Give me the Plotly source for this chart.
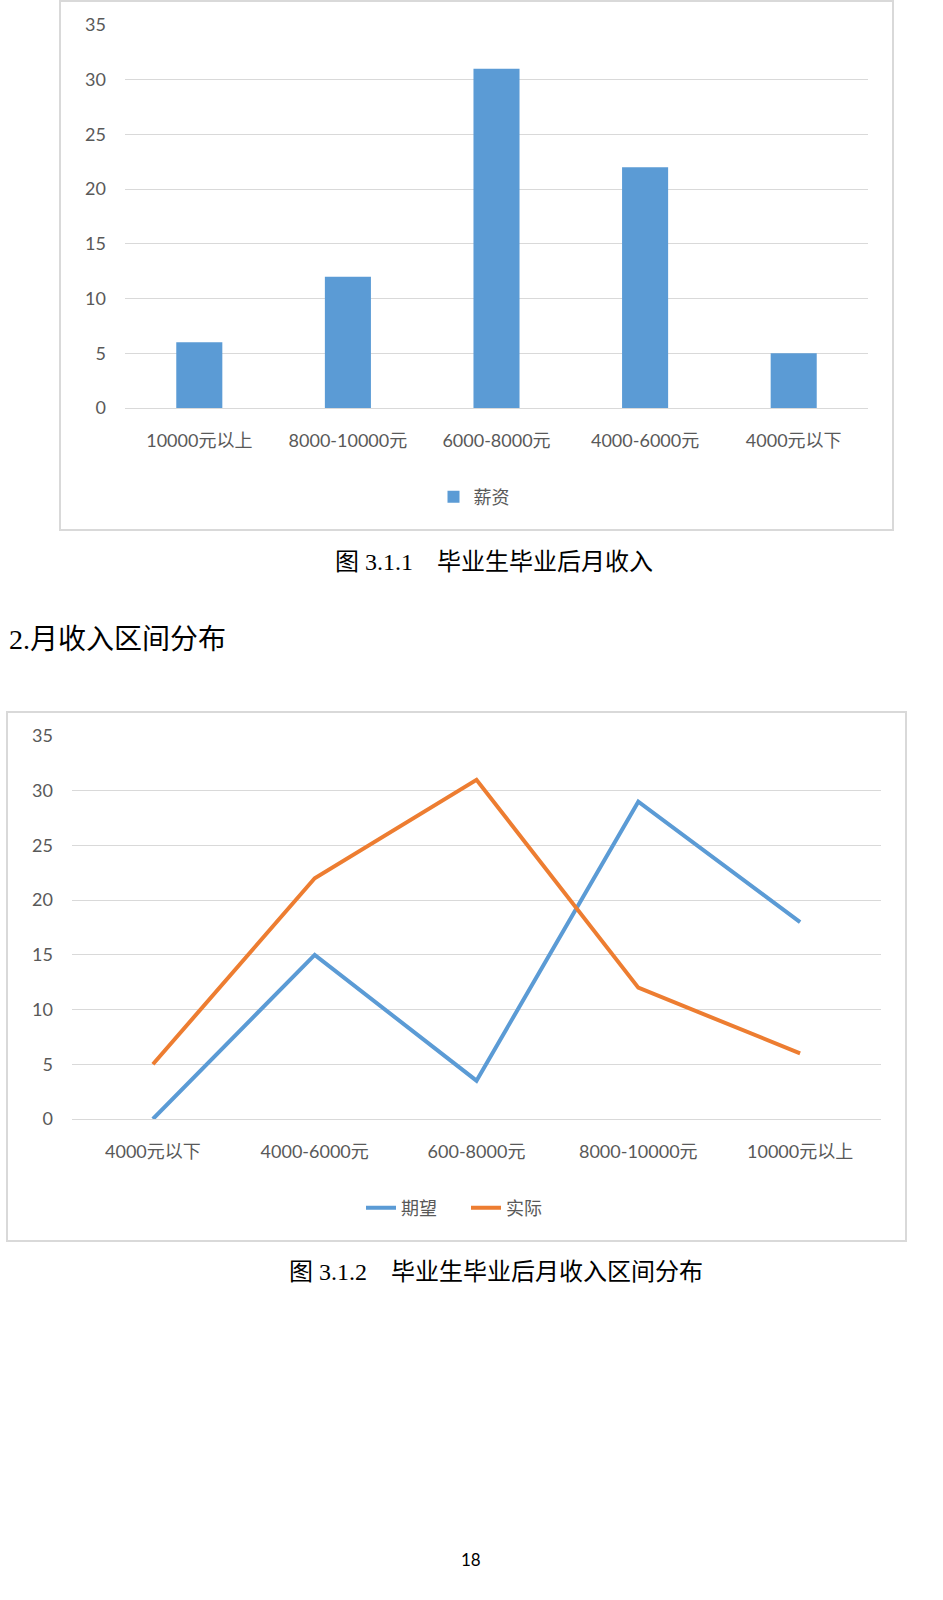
import plotly.graph_objects as go

# --- 数据 ---
bar_categories = ["10000元以上", "8000-10000元", "6000-8000元", "4000-6000元", "4000元以下"]
bar_values = [6, 12, 31, 22, 5]
bar_name = "薪资"

line_categories = ["4000元以下", "4000-6000元", "600-8000元", "8000-10000元", "10000元以上"]
expected_values = [0, 15, 3.5, 29, 18]
actual_values = [5, 22, 31, 12, 6]
line_names = ["期望", "实际"]

y_ticks = [0, 5, 10, 15, 20, 25, 30, 35]

caption_1 = "图 3.1.1　毕业生毕业后月收入"
heading_2 = "2.月收入区间分布"
caption_2 = "图 3.1.2　毕业生毕业后月收入区间分布"
page_no = "18"

# --- 页面尺寸 (像素 -> paper 坐标) ---
W, H = 943, 1600
def px_x(v): return v / W
def px_y(v): return 1 - v / H

BLUE = "#5B9BD5"
ORANGE = "#ED7D31"
GRID = "#D9D9D9"
TICK_FONT = dict(family="Lato, 'Noto Sans CJK SC'", size=18, color="#595959")
DOC_FONT = "'Liberation Serif', 'Noto Sans CJK SC'"

fig = go.Figure()

# 图 3.1.1 柱状图
fig.add_trace(go.Bar(x=bar_categories, y=bar_values, name=bar_name, marker=dict(color=BLUE, line=dict(width=0)),
                     xaxis="x", yaxis="y", legend="legend", showlegend=True))

# 图 3.1.2 折线图
for name, vals, col in [(line_names[0], expected_values, BLUE), (line_names[1], actual_values, ORANGE)]:
    fig.add_trace(go.Scatter(x=line_categories, y=vals, name=name, mode="lines",
                             line=dict(color=col, width=4), xaxis="x2", yaxis="y2", legend="legend2"))

axis_common_x = dict(showgrid=False, showline=False, zeroline=False, tickfont=TICK_FONT, automargin=False,
                     ticks="", ticklabelstandoff=20, fixedrange=True, range=[-0.5, 4.5])
axis_common_y = dict(range=[0, 35], tickvals=y_ticks, showgrid=True, gridcolor=GRID, gridwidth=1.3,
                     zeroline=True, zerolinecolor=GRID, zerolinewidth=1.3, showline=False, automargin=False,
                     tickfont=TICK_FONT, ticks="", ticklabelstandoff=18, fixedrange=True)

fig.update_layout(
    template="none",
    width=W, height=H,
    margin=dict(l=0, r=0, t=0, b=0, pad=0, autoexpand=False),
    paper_bgcolor="white", plot_bgcolor="white",
    bargap=0.69,
    xaxis=dict(domain=[px_x(125), px_x(868)], anchor="y", **axis_common_x),
    yaxis=dict(domain=[px_y(408), px_y(25)], anchor="x", **axis_common_y),
    xaxis2=dict(domain=[px_x(72), px_x(881)], anchor="y2", **axis_common_x),
    yaxis2=dict(domain=[px_y(1119), px_y(736)], anchor="x2", **axis_common_y),
    legend=dict(x=px_x(474), y=px_y(497), xanchor="center", yanchor="middle", orientation="h",
                font=dict(family="'Noto Sans CJK SC'", size=18, color="#595959"), bgcolor="rgba(0,0,0,0)"),
    legend2=dict(x=px_x(466), y=px_y(1208), xanchor="center", yanchor="middle", orientation="h",
                 entrywidth=60, entrywidthmode="pixels",
                 font=dict(family="'Noto Sans CJK SC'", size=18, color="#595959"), bgcolor="rgba(0,0,0,0)"),
    showlegend=True,
)

# 图表外框
for x0, y0, x1, y1 in [(60, 1, 893, 530), (7, 712, 906, 1241)]:
    fig.add_shape(type="rect", xref="paper", yref="paper",
                  x0=px_x(x0), y0=px_y(y0), x1=px_x(x1), y1=px_y(y1),
                  line=dict(color=GRID, width=2), fillcolor="rgba(0,0,0,0)", layer="below")

# 正文文字: 图注、小标题、页码
texts = [
    (caption_1, 494, 562, "center", 24, DOC_FONT),
    (heading_2, 7, 639, "left", 28, DOC_FONT),
    (caption_2, 496, 1272, "center", 24, DOC_FONT),
    (page_no, 471, 1559, "center", 17, "Lato"),
]
for txt, x, y, anchor, size, fam in texts:
    fig.add_annotation(text=txt, x=px_x(x), y=px_y(y), xref="paper", yref="paper", showarrow=False,
                       xanchor=anchor, yanchor="middle", font=dict(family=fam, size=size, color="#000000"))

# 去掉页面默认的 8px 边距, 让图从左上角开始
fig.write_html("out.html", config={"displayModeBar": False},
               post_script="document.body.style.margin='0px';")
